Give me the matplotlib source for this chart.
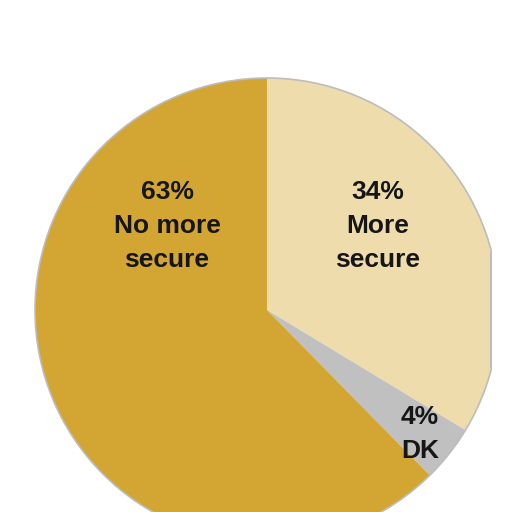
import matplotlib
matplotlib.use('Agg')
import matplotlib.pyplot as plt
from matplotlib.patches import Circle

plt.rcParams.update({'font.family': ['Liberation Sans', 'DejaVu Sans']})

# data (clockwise from 12 o'clock)
categories = ['More secure', 'DK', 'No more secure']
shares = [34, 4, 63]
colors = ['#EEDCAC', '#C0C0C0', '#D3A634']

# label text and where it sits (pixel coords, y from top)
label_text = ['34%\nMore\nsecure', '4%\nDK', '63%\nNo more\nsecure']
label_xy = [(378, 226), (420, 434), (167, 226)]

W, H = 512, 512
CX, CY, R = 267, 310, 232
CLIP_X = 492
EDGE = '#BDBDBD'


def draw():
    fig = plt.figure(figsize=(W / 100, H / 100), dpi=100)
    ax = fig.add_axes([0, 0, CLIP_X / W, 1])
    wedges, _ = ax.pie(shares, colors=colors, startangle=90, counterclock=False,
                       center=(CX, H - CY), radius=R, frame=True,
                       wedgeprops=dict(edgecolor='none', linewidth=0))
    for w in wedges:
        w.set_clip_on(True)
    ax.add_patch(Circle((CX, H - CY), R, fill=False, edgecolor=EDGE, lw=1.2))
    # gray rim along the right crop
    dy = (R ** 2 - (CLIP_X - CX) ** 2) ** 0.5
    ax.plot([CLIP_X - 1.5, CLIP_X - 1.5], [H - CY - dy, H - CY + dy],
            color=EDGE, lw=1.5, zorder=5)

    for txt, (x, y) in zip(label_text, label_xy):
        ax.text(x, H - y, txt, ha='center', va='center', fontsize=19,
                fontweight='bold', color='#161616', linespacing=1.55)

    ax.set_xlim(0, CLIP_X)
    ax.set_ylim(0, H)
    ax.set_aspect('auto')
    ax.axis('off')
    fig.savefig('out.png', dpi=100, facecolor='white')
    plt.close(fig)


if __name__ == '__main__':
    draw()
